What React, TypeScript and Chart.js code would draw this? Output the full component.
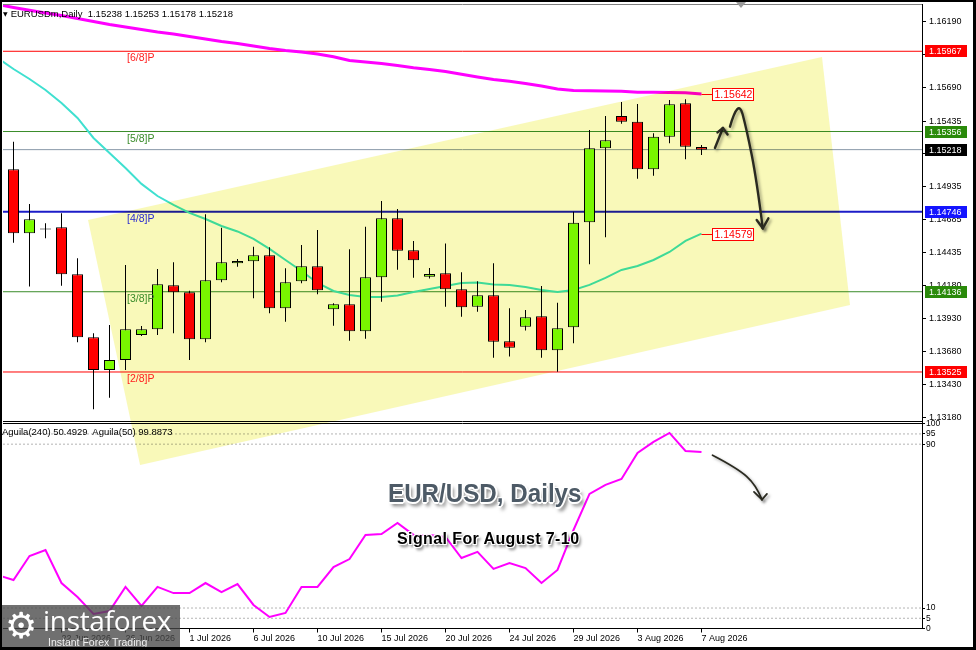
import React, { useEffect, useRef } from 'react';
import { Chart, registerables } from 'chart.js';

Chart.register(...registerables);

const FONT = '"Liberation Sans", Arial, Helvetica, sans-serif';

// ---------------- data ----------------
// candle index 0..43 (daily bars), tick labels every 4th bar
const dateTickIndex = [3, 7, 11, 15, 19, 23, 27, 31, 35, 39, 43];
const dateTickLabels = [
  '22 Jun 2026', '26 Jun 2026', '1 Jul 2026', '6 Jul 2026', '10 Jul 2026', '15 Jul 2026',
  '20 Jul 2026', '24 Jul 2026', '29 Jul 2026', '3 Aug 2026', '7 Aug 2026',
];

const opens = [
  1.15068, 1.14581, 1.14610, 1.14627, 1.14269, 1.13789, 1.13540, 1.13616, 1.13807, 1.13850,
  1.14185, 1.14132, 1.13774, 1.14223, 1.14353, 1.14368, 1.14414, 1.14010, 1.14216, 1.14330,
  1.14003, 1.14041, 1.13835, 1.14246, 1.14695, 1.14452, 1.14251, 1.14277, 1.14155, 1.14022,
  1.14109, 1.13759, 1.13870, 1.13949, 1.13690, 1.13865, 1.14665, 1.15228, 1.15474, 1.15431,
  1.15068, 1.15317, 1.15571, 1.15238,
];
const highs = [
  1.15279, 1.14804, 1.14657, 1.14733, 1.14391, 1.13820, 1.13883, 1.14340, 1.13875, 1.14309,
  1.14360, 1.14144, 1.14726, 1.14624, 1.14386, 1.14479, 1.14475, 1.14315, 1.14492, 1.14606,
  1.14048, 1.14459, 1.14631, 1.14827, 1.14766, 1.14523, 1.14317, 1.14504, 1.14284, 1.14216,
  1.14353, 1.14010, 1.13997, 1.14180, 1.14053, 1.14746, 1.15368, 1.15474, 1.15581, 1.15566,
  1.15343, 1.15596, 1.15601, 1.15253,
];
const lows = [
  1.14510, 1.14175, 1.14543, 1.14182, 1.13751, 1.13241, 1.13329, 1.13540, 1.13799, 1.13807,
  1.13820, 1.13616, 1.13751, 1.14208, 1.14327, 1.14086, 1.13972, 1.13908, 1.14200, 1.14117,
  1.13878, 1.13763, 1.13779, 1.14060, 1.14304, 1.14243, 1.14236, 1.14022, 1.13946, 1.13984,
  1.13634, 1.13642, 1.13840, 1.13634, 1.13527, 1.13744, 1.14345, 1.14551, 1.15416, 1.14997,
  1.15020, 1.15266, 1.15145, 1.15178,
];
const closes = [
  1.14581, 1.14688, 1.14617, 1.14269, 1.13789, 1.13540, 1.13616, 1.13850, 1.13850, 1.14193,
  1.14132, 1.13774, 1.14223, 1.14360, 1.14370, 1.14414, 1.14010, 1.14208, 1.14330, 1.14147,
  1.14041, 1.13835, 1.14246, 1.14695, 1.14449, 1.14376, 1.14271, 1.14155, 1.14018, 1.14109,
  1.13756, 1.13710, 1.13942, 1.13690, 1.13858, 1.14662, 1.15228, 1.15289, 1.15431, 1.15068,
  1.15317, 1.15563, 1.15241, 1.15218,
];

// moving averages / oscillator: first value belongs to bar index -1
const seriesStartIndex = -1;
const maSlow = [
  1.16323, 1.16300, 1.16279, 1.16259, 1.16239, 1.16217, 1.16194, 1.16171, 1.16152, 1.16133,
  1.16114, 1.16099, 1.16080, 1.16061, 1.16042, 1.16026, 1.16007, 1.15988, 1.15973, 1.15962,
  1.15946, 1.15925, 1.15897, 1.15885, 1.15874, 1.15859, 1.15842, 1.15828, 1.15813, 1.15792,
  1.15771, 1.15752, 1.15739, 1.15722, 1.15703, 1.15680, 1.15668, 1.15666, 1.15665, 1.15662,
  1.15655, 1.15655, 1.15653, 1.15651, 1.15642,
];
const maFast = [
  1.15916, 1.15832, 1.15756, 1.15672, 1.15573, 1.15459, 1.15307, 1.15193, 1.15078, 1.14957,
  1.14865, 1.14797, 1.14736, 1.14690, 1.14637, 1.14595, 1.14538, 1.14462, 1.14378, 1.14294,
  1.14203, 1.14142, 1.14111, 1.14096, 1.14096, 1.14108, 1.14134, 1.14157, 1.14180, 1.14203,
  1.14207, 1.14191, 1.14188, 1.14172, 1.14150, 1.14134, 1.14150, 1.14188, 1.14241, 1.14302,
  1.14332, 1.14378, 1.14439, 1.14523, 1.14579,
];
const aguila = [
  26.1, 23.7, 35.4, 38.3, 22.2, 15.4, 7.1, 8.5, 20.3, 11.0,
  20.3, 17.3, 17.3, 22.2, 17.8, 21.7, 11.5, 5.6, 7.6, 20.3,
  20.3, 30.0, 33.9, 45.7, 46.1, 51.5, 45.7, 45.7, 44.7, 34.4,
  37.4, 29.1, 32.0, 29.5, 22.2, 28.6, 48.1, 65.7, 70.1, 73.0,
  85.7, 91.1, 95.5, 86.7, 86.2,
];

const murreyValues = [1.15967, 1.15356, 1.14746, 1.14136, 1.13525];
const murreyNames = ['[6/8]P', '[5/8]P', '[4/8]P', '[3/8]P', '[2/8]P'];
const bidPrice = 1.15218;

const priceTicks = [
  1.16190, 1.15940, 1.15690, 1.15435, 1.15185, 1.14935, 1.14685,
  1.14435, 1.14180, 1.13930, 1.13680, 1.13430, 1.13180,
];
const aguilaTicks = [100, 95, 90, 10, 5, 0];
const aguilaLevels = [95, 90, 10, 5];

// annotations in data coordinates (bar index, price / oscillator value)
const channelIdx = [4.66, 50.53, 52.28, 7.91];
const channelPrice = [1.14682, 1.15924, 1.14035, 1.12817];
const arrowBigIdx = [44.78, 45.30, 45.83, 46.45, 46.83];
const arrowBigPrice = [1.15393, 1.15611, 1.15368, 1.14987, 1.14619];
const arrowBigHeadIdx = [46.45, 47.18];
const arrowBigHeadPrice = [1.14682, 1.14695];
const arrowSmallIdx = [43.84, 44.34];
const arrowSmallPrice = [1.15231, 1.15383];
const arrowSmallHeadIdx = [44.0, 44.63];
const arrowSmallHeadPrice = [1.15349, 1.15333];
const arrowOscIdx = [43.69, 45.22, 46.41, 46.78];
const arrowOscValue = [84.6, 78.4, 70.2, 62.9];
const arrowOscHeadIdx = [46.28, 47.09];
const arrowOscHeadValue = [66.7, 65.7];
const levelLabelIndex = 7.1;

// ---------------- layout / style ----------------
const X_MIN = -0.65625;
const X_MAX = 56.78125;
const Y_MIN = 1.13148;
const Y_MAX = 1.16327;
const OSC_MIN = 0;
const OSC_MAX = 101.07;

const BULL = '#7cfc00';
const BEAR = '#ff0000';
const MURREY_LINE = ['#ff0000', '#3a8c2a', '#1c1cc8', '#3a8c2a', '#ff0000'];
const MURREY_TEXT = ['#ff2020', '#3a8c2a', '#2a2ad0', '#3a8c2a', '#ff2020'];
const MURREY_BOX = ['#ff0000', '#2a8a0a', '#1414ff', '#2a8a0a', '#ff0000'];

function drawCurve(ctx: CanvasRenderingContext2D, pts: number[][]) {
  ctx.beginPath();
  ctx.moveTo(pts[0][0], pts[0][1]);
  if (pts.length === 2) {
    ctx.lineTo(pts[1][0], pts[1][1]);
  } else {
    for (let k = 1; k < pts.length - 1; k++) {
      const mx = (pts[k][0] + pts[k + 1][0]) / 2;
      const my = (pts[k][1] + pts[k + 1][1]) / 2;
      if (k === pts.length - 2) ctx.quadraticCurveTo(pts[k][0], pts[k][1], pts[k + 1][0], pts[k + 1][1]);
      else ctx.quadraticCurveTo(pts[k][0], pts[k][1], mx, my);
    }
  }
  ctx.stroke();
}

const overlayPlugin = {
  id: 'mt4Overlay',
  beforeDraw(chart: any) {
    const { ctx, width, height } = chart;
    ctx.save();
    ctx.fillStyle = '#ffffff';
    ctx.fillRect(0, 0, width, height);
    ctx.restore();
  },
  afterDatasetsDraw(chart: any) {
    const { ctx, chartArea: a, scales } = chart;
    const xs = scales.x;
    const ys = scales.y;
    ctx.save();
    ctx.beginPath();
    ctx.rect(a.left, a.top, a.right - a.left, a.bottom - a.top);
    ctx.clip();
    ctx.globalCompositeOperation = 'multiply';
    ctx.fillStyle = '#f9f9b9';
    ctx.beginPath();
    channelIdx.forEach((v, k) => {
      const px = xs.getPixelForValue(v);
      const py = ys.getPixelForValue(channelPrice[k]);
      if (k === 0) ctx.moveTo(px, py);
      else ctx.lineTo(px, py);
    });
    ctx.closePath();
    ctx.fill();
    ctx.restore();
  },
  afterDraw(chart: any) {
    const { ctx, chartArea: a, scales } = chart;
    const xs = scales.x;
    const ys = scales.y;
    const y2 = scales.y2;
    ctx.save();

    // panel frames
    ctx.lineWidth = 1;
    ctx.strokeStyle = '#808080';
    ctx.beginPath();
    ctx.moveTo(a.left, a.top + 0.5);
    ctx.lineTo(a.right, a.top + 0.5);
    ctx.stroke();
    ctx.strokeStyle = '#000000';
    ctx.beginPath();
    ctx.moveTo(a.left, Math.round(ys.bottom) - 0.5);
    ctx.lineTo(a.right, Math.round(ys.bottom) - 0.5);
    ctx.moveTo(a.left, Math.round(y2.top) + 1.5);
    ctx.lineTo(a.right, Math.round(y2.top) + 1.5);
    ctx.stroke();

    // Murrey level labels
    ctx.font = `10.5px ${FONT}`;
    ctx.textBaseline = 'alphabetic';
    ctx.textAlign = 'left';
    murreyValues.forEach((v, k) => {
      ctx.fillStyle = MURREY_TEXT[k];
      ctx.fillText(murreyNames[k], xs.getPixelForValue(levelLabelIndex), ys.getPixelForValue(v) + 10);
    });

    // right axis price boxes
    const boxes = murreyValues.map((v, k) => ({ v, c: MURREY_BOX[k] }));
    boxes.push({ v: bidPrice, c: '#000000' });
    ctx.font = `9px ${FONT}`;
    ctx.textBaseline = 'middle';
    boxes.forEach((b) => {
      const py = Math.round(ys.getPixelForValue(b.v));
      ctx.fillStyle = b.c;
      ctx.fillRect(xs.right + 3, py - 6, 42, 12);
      ctx.fillStyle = '#ffffff';
      ctx.fillText(b.v.toFixed(5), xs.right + 7, py + 0.5);
    });

    // moving average value boxes
    const lastIdx = opens.length - 1;
    const px0 = xs.getPixelForValue(lastIdx);
    ctx.font = `10.5px ${FONT}`;
    [maSlow[maSlow.length - 1], maFast[maFast.length - 1]].forEach((v) => {
      const py = Math.round(ys.getPixelForValue(v)) + 0.5;
      ctx.strokeStyle = '#ff0000';
      ctx.lineWidth = 1;
      ctx.beginPath();
      ctx.moveTo(px0, py);
      ctx.lineTo(px0 + 11, py);
      ctx.stroke();
      ctx.fillStyle = '#ffffff';
      ctx.fillRect(px0 + 11, py - 6, 41, 12);
      ctx.strokeRect(px0 + 11, py - 6, 41, 12);
      ctx.fillStyle = '#ff0000';
      ctx.fillText(v.toFixed(5), px0 + 13, py + 0.5);
    });

    // hand-drawn arrows
    ctx.strokeStyle = '#2a2a20';
    ctx.lineWidth = 2.4;
    ctx.lineCap = 'round';
    ctx.lineJoin = 'round';
    ctx.shadowColor = 'rgba(0,0,0,0.35)';
    ctx.shadowBlur = 3;
    ctx.shadowOffsetX = 2;
    ctx.shadowOffsetY = 2;
    const toPx = (idx: number[], val: number[], sc: any) =>
      idx.map((v, k) => [xs.getPixelForValue(v), sc.getPixelForValue(val[k])]);
    const head = (tip: number[], wings: number[][]) => {
      wings.forEach((w) => {
        ctx.beginPath();
        ctx.moveTo(w[0], w[1]);
        ctx.lineTo(tip[0], tip[1]);
        ctx.stroke();
      });
    };
    const big = toPx(arrowBigIdx, arrowBigPrice, ys);
    drawCurve(ctx, big);
    head(big[big.length - 1], toPx(arrowBigHeadIdx, arrowBigHeadPrice, ys));
    const small = toPx(arrowSmallIdx, arrowSmallPrice, ys);
    drawCurve(ctx, small);
    head(small[small.length - 1], toPx(arrowSmallHeadIdx, arrowSmallHeadPrice, ys));
    ctx.lineWidth = 1.8;
    const osc = toPx(arrowOscIdx, arrowOscValue, y2);
    drawCurve(ctx, osc);
    head(osc[osc.length - 1], toPx(arrowOscHeadIdx, arrowOscHeadValue, y2));

    ctx.restore();
  },
};

export default function App() {
  const canvasRef = useRef<HTMLCanvasElement | null>(null);

  useEffect(() => {
    document.body.style.margin = '0';
    const canvas = canvasRef.current;
    if (!canvas) return;

    const idx = opens.map((_, i) => i);
    const seriesIdx = maSlow.map((_, k) => k + seriesStartIndex);
    const hline = (v: number) => [{ x: X_MIN - 2, y: v }, { x: X_MAX + 2, y: v }];

    const datasets: any[] = [
      {
        type: 'bar',
        label: 'body',
        data: idx.map((i) => ({ x: i, y: [opens[i], closes[i]] })),
        backgroundColor: idx.map((i) => (closes[i] >= opens[i] ? BULL : BEAR)),
        borderColor: '#000000',
        borderWidth: 1,
        borderSkipped: false,
        inflateAmount: 0,
        minBarLength: 1,
        barThickness: 11,
        grouped: false,
        xAxisID: 'x',
        yAxisID: 'y',
        order: 0,
      },
      {
        type: 'bar',
        label: 'wick',
        data: idx.map((i) => ({ x: i, y: [lows[i], highs[i]] })),
        backgroundColor: '#000000',
        borderWidth: 0,
        inflateAmount: 0,
        barThickness: 1,
        grouped: false,
        xAxisID: 'x',
        yAxisID: 'y',
        order: 1,
      },
      {
        type: 'line',
        label: 'MA slow',
        data: seriesIdx.map((x, k) => ({ x, y: maSlow[k] })),
        borderColor: '#ff00ff',
        borderWidth: 3,
        pointRadius: 0,
        tension: 0,
        xAxisID: 'x',
        yAxisID: 'y',
        order: 2,
      },
      {
        type: 'line',
        label: 'MA fast',
        data: seriesIdx.map((x, k) => ({ x, y: maFast[k] })),
        borderColor: '#40e0d0',
        borderWidth: 2,
        pointRadius: 0,
        tension: 0,
        xAxisID: 'x',
        yAxisID: 'y',
        order: 2,
      },
      ...murreyValues.map((v, k) => ({
        type: 'line',
        label: murreyNames[k],
        data: hline(v),
        borderColor: MURREY_LINE[k],
        borderWidth: k === 2 ? 2 : 1,
        pointRadius: 0,
        xAxisID: 'x',
        yAxisID: 'y',
        order: 3,
      })),
      {
        type: 'line',
        label: 'bid',
        data: hline(bidPrice),
        borderColor: '#8898a8',
        borderWidth: 1,
        pointRadius: 0,
        xAxisID: 'x',
        yAxisID: 'y',
        order: 3,
      },
      ...aguilaLevels.map((v) => ({
        type: 'line',
        label: 'lvl' + v,
        data: hline(v),
        borderColor: '#b4b4b4',
        borderWidth: 1,
        borderDash: [2, 2],
        pointRadius: 0,
        xAxisID: 'x',
        yAxisID: 'y2',
        order: 3,
      })),
      {
        type: 'line',
        label: 'Aguila',
        data: seriesIdx.map((x, k) => ({ x, y: aguila[k] })),
        borderColor: '#ff00ff',
        borderWidth: 2,
        pointRadius: 0,
        tension: 0,
        xAxisID: 'x',
        yAxisID: 'y2',
        order: 0,
      },
    ];

    const chart = new Chart(canvas, {
      type: 'bar',
      data: { datasets },
      plugins: [overlayPlugin],
      options: {
        animation: false,
        responsive: false,
        events: [],
        layout: { padding: { left: 3, top: 4, right: 0, bottom: 0 } },
        plugins: { legend: { display: false }, tooltip: { enabled: false } },
        scales: {
          x: {
            type: 'linear',
            position: 'bottom',
            min: X_MIN,
            max: X_MAX,
            offset: false,
            afterBuildTicks: (s: any) => {
              s.ticks = dateTickIndex.map((v) => ({ value: v }));
            },
            afterFit: (s: any) => {
              s.height = 21.5;
              s.paddingLeft = 0;
              s.paddingRight = 0;
            },
            ticks: {
              autoSkip: false,
              maxRotation: 0,
              minRotation: 0,
              align: 'start',
              padding: 1,
              color: '#000000',
              font: { family: FONT, size: 9 },
              callback: (_v: any, i: number) => dateTickLabels[i],
            },
            grid: { display: true, offset: false, drawOnChartArea: false, drawTicks: true, tickLength: 4, color: '#000000' },
            border: { display: true, color: '#000000' },
          },
          y: {
            type: 'linear',
            position: 'right',
            stack: 'panes',
            stackWeight: 417.5,
            min: Y_MIN,
            max: Y_MAX,
            offset: false,
            afterBuildTicks: (s: any) => {
              s.ticks = priceTicks.map((v) => ({ value: v }));
            },
            afterFit: (s: any) => {
              s.width = 54;
              s.paddingTop = 0;
              s.paddingBottom = 0;
            },
            ticks: {
              autoSkip: false,
              padding: 3,
              color: '#000000',
              font: { family: FONT, size: 9 },
              callback: (v: any) => Number(v).toFixed(5),
            },
            grid: { drawOnChartArea: false, drawTicks: true, tickLength: 4, color: '#000000' },
            border: { display: true, color: '#000000' },
          },
          y2: {
            type: 'linear',
            position: 'right',
            stack: 'panes',
            stackWeight: 207,
            min: OSC_MIN,
            max: OSC_MAX,
            offset: false,
            afterBuildTicks: (s: any) => {
              s.ticks = aguilaTicks.map((v) => ({ value: v }));
            },
            afterFit: (s: any) => {
              s.width = 54;
              s.paddingTop = 0;
              s.paddingBottom = 0;
            },
            ticks: {
              autoSkip: false,
              padding: 1,
              color: '#000000',
              font: { family: FONT, size: 8.5 },
              callback: (v: any) => String(v),
            },
            grid: { drawOnChartArea: false, drawTicks: true, tickLength: 3, color: '#000000' },
            border: { display: true, color: '#000000' },
          },
        },
      } as any,
    });

    return () => chart.destroy();
  }, []);

  const abs: React.CSSProperties = { position: 'absolute', whiteSpace: 'nowrap' };

  return (
    <div style={{ position: 'relative', width: 976, height: 650, overflow: 'hidden', background: '#ffffff', fontFamily: FONT }}>
      <canvas ref={canvasRef} width={976} height={650} style={{ position: 'absolute', left: 0, top: 0, width: 976, height: 650 }} />

      <div style={{ ...abs, left: 3, top: 8, fontSize: 9.5, lineHeight: '11px', color: '#000' }}>
        <span style={{ fontSize: 6, verticalAlign: 'top', fontFamily: '"DejaVu Sans"' }}>▼</span>
        <span style={{ marginLeft: 3 }}>EURUSDm,Daily&nbsp;&nbsp;1.15238 1.15253 1.15178 1.15218</span>
      </div>

      <div style={{ ...abs, left: 2, top: 427, fontSize: 9.5, lineHeight: '10px', color: '#000' }}>
        Aguila(240) 50.4929&nbsp; Aguila(50) 99.8873
      </div>

      <div
        style={{
          ...abs,
          left: 388,
          top: 480,
          fontSize: 26,
          lineHeight: '26px',
          fontWeight: 700,
          color: '#4d5a66',
          transform: 'scaleX(0.93)',
          transformOrigin: 'left top',
          textShadow:
            '1px 1px 0 #fff, -1px -1px 0 #fff, 1px -1px 0 #fff, -1px 1px 0 #fff, 0 2px 0 #fff, 2px 0 0 #fff, 3px 4px 4px rgba(0,0,0,0.55)',
        }}
      >
        EUR/USD, Dailys
      </div>

      <div
        style={{
          ...abs,
          left: 397,
          top: 531,
          fontSize: 16,
          lineHeight: '16px',
          fontWeight: 700,
          letterSpacing: 0.4,
          color: '#000',
          textShadow:
            '1px 1px 0 #fff, -1px -1px 0 #fff, 1px -1px 0 #fff, -1px 1px 0 #fff, 2px 3px 3px rgba(0,0,0,0.6)',
        }}
      >
        Signal For August 7-10
      </div>

      <div style={{ position: 'absolute', left: 0, top: 605, width: 180, height: 45, background: 'rgba(72,72,72,0.78)' }}>
        <div style={{ ...abs, left: 5, top: 1, fontSize: 36, lineHeight: '40px', color: '#ffffff', fontFamily: '"DejaVu Sans"' }}>⚙</div>
        <div style={{ ...abs, left: 43, top: 1, fontSize: 28, lineHeight: '28px', color: '#ffffff', fontFamily: '"Open Sans", "Noto Sans", sans-serif', letterSpacing: -0.3 }}>
          instaforex
        </div>
        <div style={{ ...abs, left: 48, top: 31, fontSize: 10.5, lineHeight: '12px', color: '#f0f0f0' }}>Instant Forex Trading</div>
      </div>

      <div style={{ position: 'absolute', left: 736, top: 2, width: 0, height: 0, borderLeft: '5px solid transparent', borderRight: '5px solid transparent', borderTop: '6px solid #9a9a9a' }} />

      <div style={{ position: 'absolute', left: 0, top: 0, width: 976, height: 650, boxSizing: 'border-box', borderTop: '2px solid #000', borderLeft: '2px solid #000', borderRight: '3px solid #000', borderBottom: '3px solid #000', pointerEvents: 'none' }} />
    </div>
  );
}
